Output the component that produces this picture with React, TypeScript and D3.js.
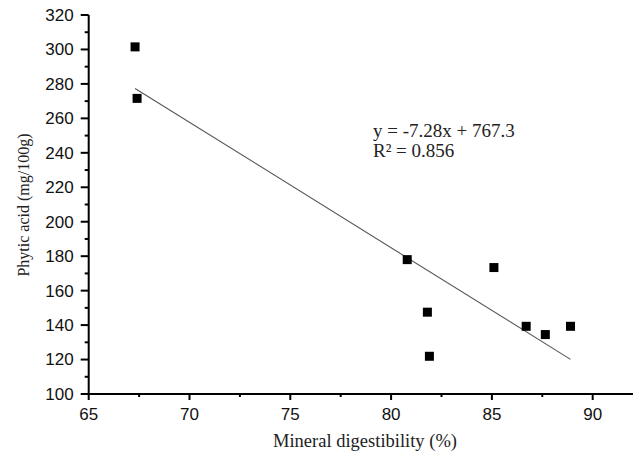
import React, { useEffect, useRef } from 'react';
import * as d3 from 'd3';

// Datos
const digestibility = [67.3, 67.4, 80.8, 85.1, 81.8, 81.9, 86.7, 87.65, 88.9];
const phyticAcid = [301.5, 271.6, 178, 173.4, 147.5, 121.9, 139.3, 134.5, 139.3];
const xTicks = [65, 70, 75, 80, 85, 90];
const yTicks = [100, 120, 140, 160, 180, 200, 220, 240, 260, 280, 300, 320];
const slope = -7.28;
const intercept = 767.3;
const equationLines = ['y = -7.28x + 767.3', 'R² = 0.856'];

const W = 633;
const H = 452;
const margin = { top: 15, right: 1, bottom: 58, left: 88.7 };

const App = () => {
  const svgRef = useRef<SVGSVGElement | null>(null);

  useEffect(() => {
    const svg = d3.select(svgRef.current);
    svg.selectAll('*').remove();

    const x = d3.scaleLinear().domain([65, 91.95]).range([margin.left, W - margin.right]);
    const y = d3.scaleLinear().domain([100, 320]).range([H - margin.bottom, margin.top]);

    // ticks menores
    const xMinor = d3.range(67.5, 92, 5);
    const yMinor = d3.range(110, 320, 20);

    const axisFont = '"Liberation Sans", Arial, sans-serif';
    const serif = '"Liberation Serif", "Times New Roman", serif';

    // Eje X
    const gx = svg.append('g').attr('transform', `translate(0,${y(100)})`);
    gx.append('line')
      .attr('x1', x(65) - 1).attr('x2', W)
      .attr('stroke', '#000').attr('stroke-width', 2);
    gx.selectAll('line.major').data(xTicks).join('line')
      .attr('class', 'major')
      .attr('x1', d => x(d)).attr('x2', d => x(d))
      .attr('y1', 0).attr('y2', 6)
      .attr('stroke', '#000').attr('stroke-width', 2);
    gx.selectAll('line.minor').data(xMinor).join('line')
      .attr('class', 'minor')
      .attr('x1', d => x(d)).attr('x2', d => x(d))
      .attr('y1', 0).attr('y2', 3)
      .attr('stroke', '#000').attr('stroke-width', 2);
    gx.selectAll('text').data(xTicks).join('text')
      .attr('x', d => x(d)).attr('y', 26)
      .attr('text-anchor', 'middle')
      .style('font-family', axisFont).style('font-size', '17px').attr('fill', '#111')
      .text(d => d);

    // Eje Y
    const gy = svg.append('g').attr('transform', `translate(${x(65)},0)`);
    gy.append('line')
      .attr('y1', y(320)).attr('y2', y(100) + 1)
      .attr('stroke', '#000').attr('stroke-width', 2);
    gy.selectAll('line.major').data(yTicks).join('line')
      .attr('class', 'major')
      .attr('y1', d => y(d)).attr('y2', d => y(d))
      .attr('x1', 0).attr('x2', -8)
      .attr('stroke', '#000').attr('stroke-width', 2);
    gy.selectAll('line.minor').data(yMinor).join('line')
      .attr('class', 'minor')
      .attr('y1', d => y(d)).attr('y2', d => y(d))
      .attr('x1', 0).attr('x2', -4)
      .attr('stroke', '#000').attr('stroke-width', 2);
    gy.selectAll('text').data(yTicks).join('text')
      .attr('x', -15).attr('y', d => y(d))
      .attr('dy', '0.35em')
      .attr('text-anchor', 'end')
      .style('font-family', axisFont).style('font-size', '17px').attr('fill', '#111')
      .text(d => d);

    // Títulos de ejes
    svg.append('text')
      .attr('x', 365).attr('y', 447)
      .attr('text-anchor', 'middle')
      .style('font-family', serif).style('font-size', '18.5px').attr('fill', '#222')
      .text('Mineral digestibility (%)');
    svg.append('text')
      .attr('transform', `translate(29,205) rotate(-90)`)
      .attr('text-anchor', 'middle')
      .style('font-family', serif).style('font-size', '16px').attr('fill', '#222')
      .text('Phytic acid (mg/100g)');

    // Recta de regresión
    const [xmin, xmax] = d3.extent(digestibility) as [number, number];
    svg.append('line')
      .attr('x1', x(xmin)).attr('y1', y(slope * xmin + intercept))
      .attr('x2', x(xmax)).attr('y2', y(slope * xmax + intercept))
      .attr('stroke', '#555').attr('stroke-width', 1.1);

    // Puntos
    const s = 9;
    svg.selectAll('rect.pt').data(digestibility).join('rect')
      .attr('class', 'pt')
      .attr('x', d => x(d) - s / 2)
      .attr('y', (d, i) => y(phyticAcid[i]) - s / 2)
      .attr('width', s).attr('height', s)
      .attr('fill', '#000');

    // Ecuación
    svg.append('g').selectAll('text').data(equationLines).join('text')
      .attr('x', 373).attr('y', (d, i) => 137 + i * 20)
      .style('font-family', serif).style('font-size', '19px').attr('fill', '#222')
      .text(d => d);
  }, []);

  return (
    <svg ref={svgRef} width={W} height={H}
      style={{ position: 'absolute', left: 0, top: 0, background: '#fff' }} />
  );
};

export default App;
